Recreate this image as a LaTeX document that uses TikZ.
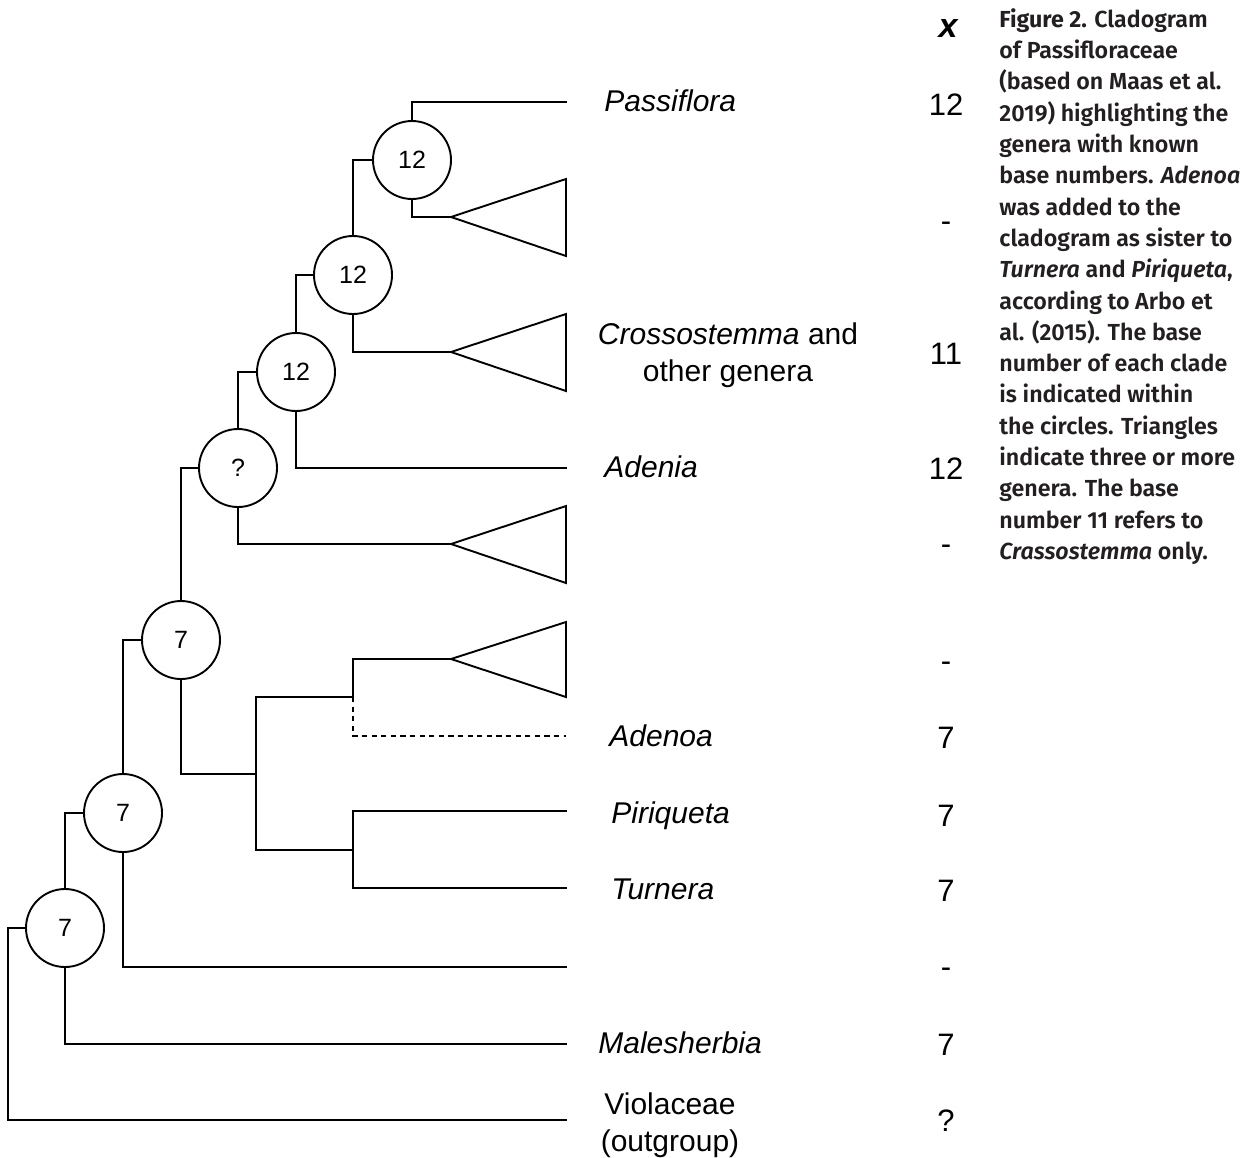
\documentclass[tikz,border=0pt]{standalone}
\usepackage{fontspec}
\setmainfont{Liberation Sans}
\newfontfamily\capfont{Fira Sans}[UprightFont={* SemiBold}, ItalicFont={* SemiBold Italic}, BoldFont={* Bold}]
\definecolor{captxt}{RGB}{35,31,32}
\begin{document}
\begin{tikzpicture}[x=0.5pt,y=-0.5pt,
  br/.style={line width=0.95pt, line cap=rect},
  cnode/.style={circle, draw, line width=0.95pt, minimum size=39pt, inner sep=0pt, font=\fontsize{12.5}{14}\selectfont},
  lab/.style={anchor=base west, inner sep=0pt, font=\fontsize{15}{18}\selectfont\itshape},
  labc/.style={anchor=base, inner sep=0pt, font=\fontsize{15}{18}\selectfont},
  num/.style={anchor=base, inner sep=0pt, font=\fontsize{15.5}{18}\selectfont},
  capline/.style={anchor=base west, inner sep=0pt, text=captxt, font=\capfont\fontsize{11.6}{15.65}\selectfont}]
\useasboundingbox (0,0) rectangle (1256,1157);

% circles
\node[cnode] (n1) at (412,160) {12};
\node[cnode] (n2) at (353,275) {12};
\node[cnode] (n3) at (296,372) {12};
\node[cnode] (nq) at (238,468) {?};
\node[cnode] (na) at (181,640) {7};
\node[cnode] (nb) at (123,813) {7};
\node[cnode] (nc) at (65,928) {7};

% tips and joints
\coordinate (tPass) at (566,102);
\coordinate (ap1) at (451,217);
\coordinate (ap2) at (451,352);
\coordinate (tAden) at (566,468);
\coordinate (ap3) at (451,544);
\coordinate (j1) at (256,774);
\coordinate (jA) at (256,697);
\coordinate (jB) at (256,850);
\coordinate (kA) at (353,697);
\coordinate (kB) at (353,850);
\coordinate (ap4) at (451,659);
\coordinate (tAdenoa) at (566,736);
\coordinate (tPir) at (566,811);
\coordinate (tTur) at (566,888);
\coordinate (tX) at (566,967);
\coordinate (tMal) at (566,1044);
\coordinate (root) at (8,1120);
\coordinate (tOut) at (566,1120);

% branches
\draw[br] (n1.north) |- (tPass);
\draw[br] (n1.south) |- (ap1);
\draw[br] (n1.west) -| (n2.north);
\draw[br] (n2.south) |- (ap2);
\draw[br] (n2.west) -| (n3.north);
\draw[br] (n3.south) |- (tAden);
\draw[br] (n3.west) -| (nq.north);
\draw[br] (nq.south) |- (ap3);
\draw[br] (nq.west) -| (na.north);
\draw[br] (na.south) |- (j1);
\draw[br] (jA) -- (jB);
\draw[br] (jA) -- (kA) |- (ap4);
\draw[br, dashed, dash pattern=on 2.6pt off 2.2pt, line cap=butt] (kA) |- (tAdenoa);
\draw[br] (jB) -- (kB);
\draw[br] (tPir) -| (kB) |- (tTur);
\draw[br] (na.west) -| (nb.north);
\draw[br] (nb.south) |- (tX);
\draw[br] (nb.west) -| (nc.north);
\draw[br] (nc.south) |- (tMal);
\draw[br] (nc.west) -| (root) -- (tOut);

% triangles
\draw[br, line join=miter] (ap1) -- (566,179) -- (566,256) -- cycle;
\draw[br, line join=miter] (ap2) -- (566,314) -- (566,391) -- cycle;
\draw[br, line join=miter] (ap3) -- (566,506) -- (566,583) -- cycle;
\draw[br, line join=miter] (ap4) -- (566,622) -- (566,697) -- cycle;

% labels
\node[lab] (lPass) at (604,111) {Passiflora};
\node[labc] (lCro1) at (728,344) {\textit{Crossostemma} and};
\node[labc] (lCro2) at (728,381) {other genera};
\node[lab] (lAden) at (604,477) {Adenia};
\node[lab] (lAdenoa) at (609,746) {Adenoa};
\node[lab] (lPir) at (611,823) {Piriqueta};
\node[lab] (lTur) at (611,899) {Turnera};
\node[lab] (lMal) at (598,1053) {Malesherbia};
\node[labc] (lOut1) at (670,1114) {Violaceae};
\node[labc] (lOut2) at (670,1151) {(outgroup)};

% base numbers
\node[num, font=\fontsize{17}{20}\selectfont\bfseries\itshape] (hx) at (948,37) {x};
\node[num] (v1) at (946,115) {12};
\node[num] (v2) at (946,231) {-};
\node[num] (v3) at (946,364) {11};
\node[num] (v4) at (946,479) {12};
\node[num] (v5) at (946,554) {-};
\node[num] (v6) at (946,671) {-};
\node[num] (v7) at (946,748) {7};
\node[num] (v8) at (946,826) {7};
\node[num] (v9) at (946,901) {7};
\node[num] (v10) at (946,977) {-};
\node[num] (v11) at (946,1055) {7};
\node[num] (v12) at (946,1131) {?};

% caption
\foreach \t [count=\i] in {
  {\textbf{Figure 2.} Cladogram},
  {of Passifloraceae},
  {(based on Maas et al.},
  {2019) highlighting the},
  {genera with known},
  {base numbers. \textit{Adenoa}},
  {was added to the},
  {cladogram as sister to},
  {\textit{Turnera} and \textit{Piriqueta},},
  {according to Arbo et},
  {al. (2015). The base},
  {number of each clade},
  {is indicated within},
  {the circles. Triangles},
  {indicate three or more},
  {genera. The base},
  {number 11 refers to},
  {\textit{Crassostemma} only.}}
  \node[capline] (cap\i) at (999,{27.3+31.3*(\i-1)}) {\t};
\end{tikzpicture}
\end{document}
